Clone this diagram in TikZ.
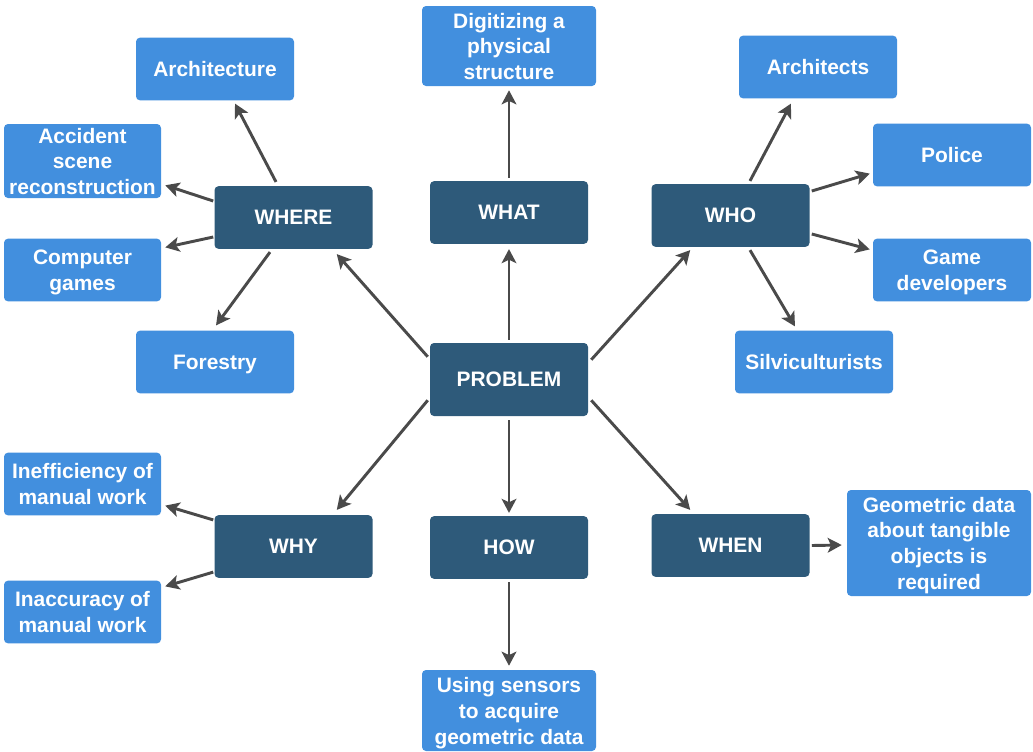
\documentclass[tikz,border=0pt]{standalone}
\usepackage{fontspec}
\setmainfont{Liberation Sans}
\usetikzlibrary{arrows.meta}

\definecolor{catblue}{RGB}{46,90,122}
\definecolor{leafblue}{RGB}{66,143,222}
\definecolor{arrowgray}{RGB}{74,74,74}

% vaste hoogte en diepte voor eerste en laatste regel
\newcommand\boxstrut{\rule[-3.3pt]{0pt}{17.3pt}}
\newcommand\topstrut{\rule{0pt}{15pt}}

\begin{document}
\begin{tikzpicture}[
  x=0.75pt, y=-0.75pt,
  box/.style={rounded corners=3pt, text=white, align=center,
    inner xsep=2pt, inner ysep=0pt,
    font=\fontsize{15.7}{19.3}\selectfont\bfseries,
    execute at begin node=\boxstrut, execute at end node=\boxstrut,
    minimum width=118.5pt, minimum height=47pt},
  cat/.style={box, fill=catblue},
  leaf/.style={box, fill=leafblue},
  arr/.style={draw=arrowgray, line width=2.2pt,
    -{Stealth[length=10.5pt, width=11pt, inset=2.5pt]}}
]
\useasboundingbox (0,0) rectangle (1033,751);

% Midden en vragen
\node[cat, minimum height=54.75pt] (problem) at (509,379.5) {PROBLEM};
\node[cat] (what)  at (509,212.5)   {WHAT};
\node[cat] (where) at (293.5,217.5) {WHERE};
\node[cat] (who)   at (730.5,215.5) {WHO};
\node[cat] (why)   at (293.5,546.5) {WHY};
\node[cat] (how)   at (509,547.5)   {HOW};
\node[cat] (when)  at (730.5,545.5) {WHEN};

% Antwoorden
\node[leaf, minimum width=130.5pt, minimum height=60pt] (digit) at (509,46) {\topstrut Digitizing a\\physical\\structure};
\node[leaf] (arch)     at (215,69)    {Architecture};
\node[leaf, inner ysep=-1pt, minimum width=117.75pt, minimum height=55.5pt] (accident) at (82.5,161) {\topstrut Accident\\scene\\reconstruction};
\node[leaf, minimum width=117.75pt] (computer) at (82.5,270) {\topstrut Computer\\games};
\node[leaf] (forestry) at (215,362)   {Forestry};
\node[leaf, minimum width=117.75pt] (ineff) at (82.5,484) {\topstrut Inefficiency of\\manual work};
\node[leaf, minimum width=117.75pt] (inacc) at (82.5,612) {\topstrut Inaccuracy of\\manual work};
\node[leaf, minimum width=130.5pt, minimum height=60.75pt] (using) at (509,710.5) {\topstrut Using sensors\\to acquire\\geometric data};
\node[leaf] (architects) at (818,67)  {Architects};
\node[leaf] (police)     at (952,155) {Police};
\node[leaf] (game)       at (952,270) {\topstrut Game\\developers};
\node[leaf] (silvic)     at (814,362) {Silviculturists};
\node[leaf, minimum width=138pt, minimum height=79.5pt] (geo) at (939,543) {\topstrut Geometric data\\about tangible\\objects is\\required};

% Pijlen vanuit PROBLEM
\draw[arr] ([shift={(0,-3)}]problem.north) -- ([shift={(0,5)}]what.south);
\draw[arr] ([shift={(-2,14)}]problem.north west) -- ([shift={(-36,5)}]where.south east);
\draw[arr] ([shift={(3,17)}]problem.north east) -- ([shift={(39,3)}]who.south west);
\draw[arr] ([shift={(-2,-16)}]problem.south west) -- ([shift={(-36,-5)}]why.north east);
\draw[arr] ([shift={(0,4)}]problem.south) -- ([shift={(0,-3)}]how.north);
\draw[arr] ([shift={(3,-16)}]problem.south east) -- ([shift={(39,-4)}]when.north west);

% Pijlen naar de antwoorden
\draw[arr] ([shift={(0,-3)}]what.north) -- ([shift={(0,4)}]digit.south);
\draw[arr] ([shift={(-17.5,-4)}]where.north) -- ([shift={(20,3)}]arch.south);
\draw[arr] ([shift={(-1,-16.5)}]where.west) -- ([shift={(4,-13)}]accident.south east);
\draw[arr] ([shift={(-1,19.5)}]where.west) -- ([shift={(4,9)}]computer.north east);
\draw[arr] ([shift={(-23.5,3)}]where.south) -- ([shift={(1,-5)}]forestry.north);
\draw[arr] ([shift={(19.5,-3)}]who.north) -- ([shift={(-27,5)}]architects.south);
\draw[arr] ([shift={(2,-24.5)}]who.east) -- ([shift={(-3,-13)}]police.south west);
\draw[arr] ([shift={(2,18.5)}]who.east) -- ([shift={(-3,11)}]game.north west);
\draw[arr] ([shift={(19.5,3)}]who.south) -- ([shift={(-19,-4)}]silvic.north);
\draw[arr] ([shift={(-1,5)}]why.north west) -- ([shift={(4,-10)}]ineff.south east);
\draw[arr] ([shift={(-1,-6)}]why.south west) -- ([shift={(4,6)}]inacc.north east);
\draw[arr] ([shift={(0,3)}]how.south) -- ([shift={(0,-4)}]using.north);
\draw[arr] ([shift={(2,0)}]when.east) -- ([shift={(-5,2)}]geo.west);

\end{tikzpicture}
\end{document}
